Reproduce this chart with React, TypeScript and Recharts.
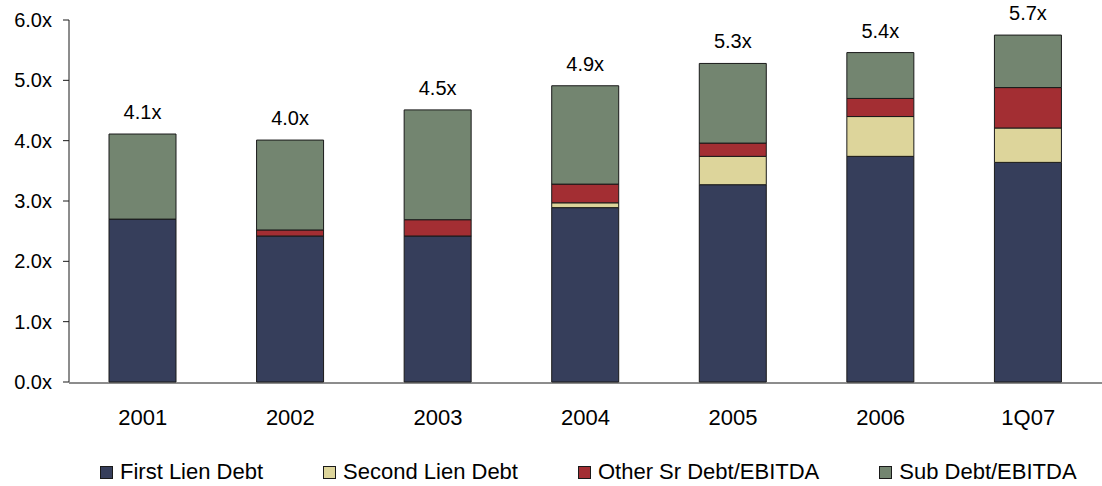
import { BarChart, Bar, XAxis, YAxis, Legend, LabelList } from "recharts";

const periods = ["2001", "2002", "2003", "2004", "2005", "2006", "1Q07"];
const firstLien = [2.7, 2.42, 2.42, 2.89, 3.27, 3.74, 3.64];
const secondLien = [0, 0, 0, 0.08, 0.47, 0.66, 0.57];
const otherSenior = [0, 0.1, 0.27, 0.31, 0.22, 0.3, 0.67];
const subDebt = [1.41, 1.49, 1.82, 1.63, 1.32, 0.76, 0.87];
const totalLabels = ["4.1x", "4.0x", "4.5x", "4.9x", "5.3x", "5.4x", "5.7x"];
const yTicks = [0, 1, 2, 3, 4, 5, 6];
const boundaryTicks = [0, 1, 2, 3, 4, 5, 6, 7];

const series = [
  { key: "first", name: "First Lien Debt", color: "#363e5b" },
  { key: "second", name: "Second Lien Debt", color: "#ddd59b" },
  { key: "other", name: "Other Sr Debt/EBITDA", color: "#a32e33" },
  { key: "sub", name: "Sub Debt/EBITDA", color: "#738570" },
];

const data = periods.map((period, i) => ({
  period,
  first: firstLien[i],
  second: secondLien[i],
  other: otherSenior[i],
  sub: subDebt[i],
  total: totalLabels[i],
}));

const font = '"Liberation Sans", Arial, sans-serif';
const ink = "#1a1a1a";

function LegendRow() {
  return (
    <div
      style={{
        display: "flex",
        alignItems: "center",
        height: 28,
        paddingLeft: 100,
        gap: 60,
        fontFamily: font,
        fontSize: 22,
        color: "#000",
      }}
    >
      {series.map((s) => (
        <div key={s.key} style={{ display: "flex", alignItems: "center", gap: 7 }}>
          <span
            style={{
              display: "inline-block",
              width: 11,
              height: 11,
              background: s.color,
              border: `1px solid ${ink}`,
            }}
          />
          <span>{s.name}</span>
        </div>
      ))}
    </div>
  );
}

export default function App() {
  return (
    <div style={{ position: "absolute", left: 0, top: 0 }}>
      <BarChart
        width={1102}
        height={486}
        data={data}
        margin={{ top: 20, right: 0, bottom: 0, left: 0 }}
        barSize={67}
      >
        <XAxis
          dataKey="period"
          height={1}
          axisLine={false}
          tickLine={false}
          tickSize={0}
          tickMargin={27}
          tick={{ fill: "#000", fontSize: 22, fontFamily: font }}
        />
        <XAxis
          xAxisId="edges"
          type="number"
          domain={[0, 7]}
          ticks={boundaryTicks}
          tick={false}
          tickSize={7}
          height={75}
          axisLine={{ stroke: ink }}
          tickLine={{ stroke: ink }}
          allowDataOverflow
        />
        <YAxis
          width={69}
          domain={[0, 6]}
          ticks={yTicks}
          tickFormatter={(v: number) => `${v.toFixed(1)}x`}
          axisLine={{ stroke: ink }}
          tickLine={{ stroke: ink }}
          tickSize={6}
          tickMargin={11}
          tick={{ fill: "#000", fontSize: 20, fontFamily: font }}
        />
        <Legend
          verticalAlign="bottom"
          content={() => <LegendRow />}
          wrapperStyle={{ left: 0, width: 1102 }}
        />
        {series.map((s) => (
          <Bar
            key={s.key}
            dataKey={s.key}
            name={s.name}
            stackId="debt"
            fill={s.color}
            stroke={ink}
            strokeWidth={1}
            isAnimationActive={false}
          >
            {s.key === "sub" && (
              <LabelList
                dataKey="total"
                position="top"
                offset={15}
                fill="#000"
                fontSize={20}
                fontFamily={font}
              />
            )}
          </Bar>
        ))}
      </BarChart>
    </div>
  );
}
